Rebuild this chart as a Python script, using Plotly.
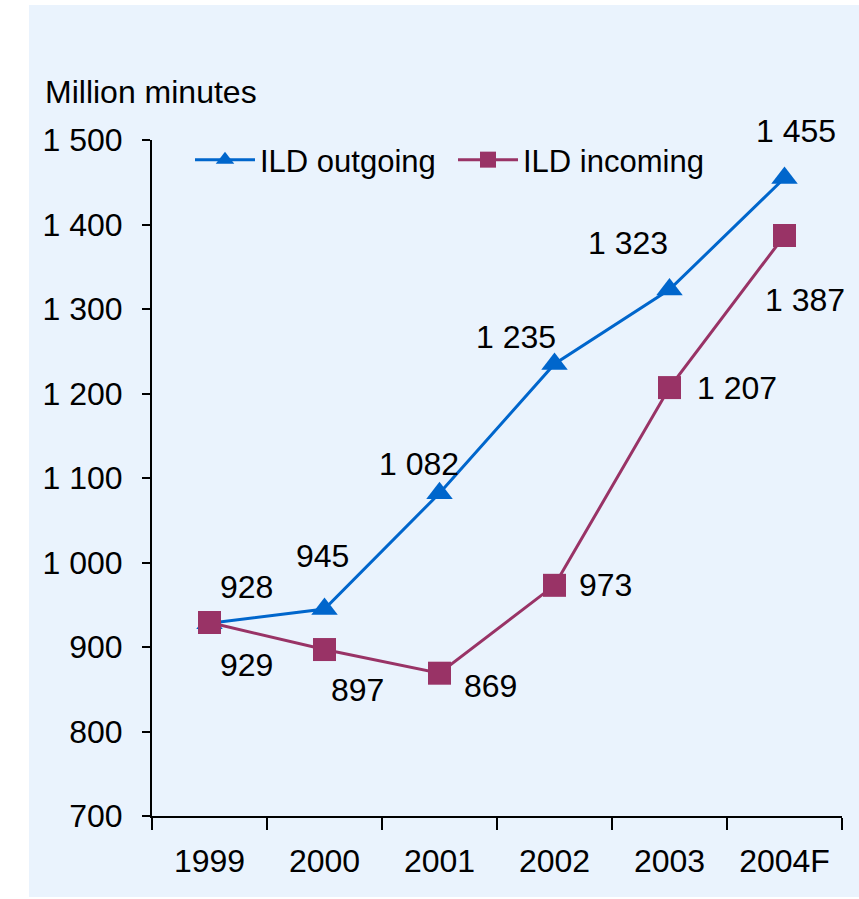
import plotly.graph_objects as go

# International long-distance traffic, million minutes
years = ["1999", "2000", "2001", "2002", "2003", "2004F"]
ild_outgoing = [928, 945, 1082, 1235, 1323, 1455]
ild_incoming = [929, 897, 869, 973, 1207, 1387]
y_ticks = [700, 800, 900, 1000, 1100, 1200, 1300, 1400, 1500]

# label offsets (px) relative to each marker
out_offsets = [(37, 36), (-2, 53), (-21, 29), (-39, 27), (-42, 47), (11, 47)]
in_offsets = [(37, -42), (33, -40), (51, -13), (51, 0), (67, 0), (20, -65)]

BLUE = "#0066CC"
MAROON = "#993366"
FONT = "Liberation Sans, Arial, sans-serif"
FS = 32


def fmt(v):
    return f"{v:,}".replace(",", " ")


W, H = 859, 899
ML, MR, MT, MB = 152, 17, 140, 83
pw, ph = W - ML - MR, H - MT - MB


def px_x(p):
    return (p - ML) / pw


def px_y(p):
    return (H - MB - p) / ph


fig = go.Figure()
fig.add_trace(go.Scatter(
    x=years, y=ild_outgoing, name="ILD outgoing", mode="lines+markers",
    line=dict(color=BLUE, width=3),
    marker=dict(symbol="triangle-up", size=23, color=BLUE),
))
fig.add_trace(go.Scatter(
    x=years, y=ild_incoming, name="ILD incoming", mode="lines+markers",
    line=dict(color=MAROON, width=3),
    marker=dict(symbol="square", size=23, color=MAROON),
))

annotations = []
for ys, offs in ((ild_outgoing, out_offsets), (ild_incoming, in_offsets)):
    for i, (y, (dx, dy)) in enumerate(zip(ys, offs)):
        annotations.append(dict(
            x=i, y=y, xref="x", yref="y", text=fmt(y), showarrow=False,
            xshift=dx, yshift=dy, font=dict(size=FS, color="black", family=FONT),
        ))

annotations.append(dict(
    x=px_x(43), y=px_y(92), xref="paper", yref="paper", text="Million minutes",
    showarrow=False, xanchor="left", yanchor="middle",
    font=dict(size=FS, color="black", family=FONT),
))

fig.update_layout(
    width=W, height=H,
    margin=dict(l=ML, r=MR, t=MT, b=MB, pad=0),
    paper_bgcolor="white",
    plot_bgcolor="rgba(0,0,0,0)",
    font=dict(family=FONT, size=FS, color="black"),
    showlegend=True,
    legend=dict(
        orientation="h", x=px_x(190), y=px_y(160), xanchor="left", yanchor="middle",
        bgcolor="rgba(0,0,0,0)", font=dict(size=31, family=FONT),
        itemwidth=60, entrywidth=188, tracegroupgap=0,
    ),
    annotations=annotations,
    shapes=[dict(
        type="rect", xref="paper", yref="paper", layer="below",
        x0=px_x(29), x1=px_x(870), y0=px_y(897), y1=px_y(5),
        fillcolor="#EAF3FD", line=dict(width=0),
    )],
    xaxis=dict(
        type="category", range=[-0.5, 5.5], tickson="boundaries",
        showline=True, linecolor="black", linewidth=2,
        ticks="outside", ticklen=12, tickwidth=2, tickcolor="black",
        showgrid=False, zeroline=False,
        tickfont=dict(size=FS, family=FONT), ticklabelstandoff=16,
    ),
    yaxis=dict(
        range=[700, 1500], tickvals=y_ticks, ticktext=[fmt(v) for v in y_ticks],
        showline=True, linecolor="black", linewidth=2,
        ticks="outside", ticklen=8, tickwidth=2, tickcolor="black",
        showgrid=False, zeroline=False,
        tickfont=dict(size=FS, family=FONT), ticklabelstandoff=13,
    ),
)

fig.write_html("out.html")
